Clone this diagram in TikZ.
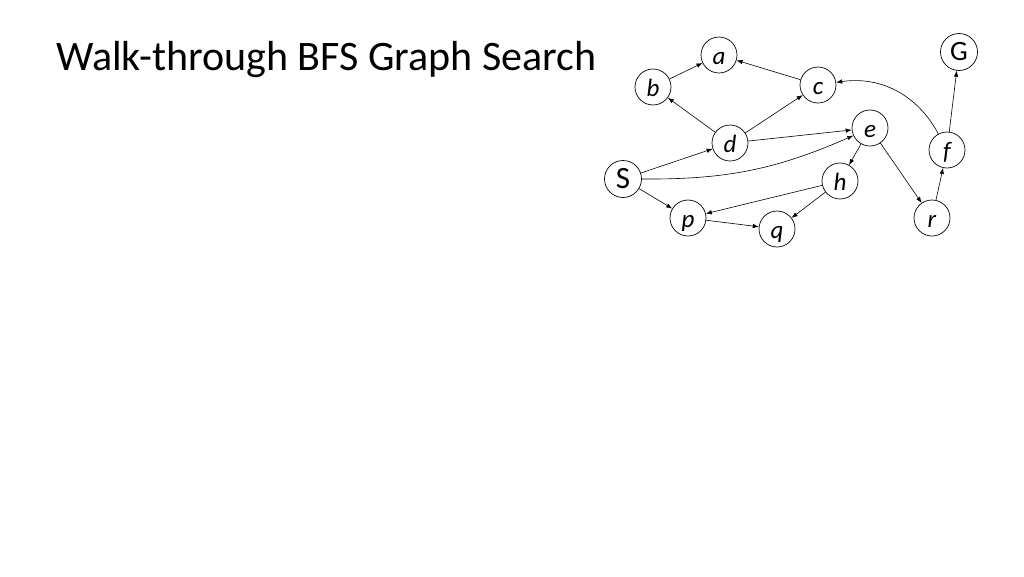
\documentclass[tikz,border=0pt]{standalone}
\usepackage{fontspec}
\setmainfont{Carlito}
\usetikzlibrary{arrows.meta}
\newcommand{\vlbl}[1]{\raisebox{-4pt}{#1}}
\begin{document}
\begin{tikzpicture}[x=1pt,y=-1pt,
  vtx/.style={circle,draw,line width=0.7pt,minimum size=36pt,inner sep=0pt,text height=14.5pt,text depth=3pt,font=\fontsize{25}{25}\selectfont\itshape},
  big/.style={circle,draw,line width=0.7pt,minimum size=37pt,inner sep=0pt},
  arr/.style={-{Latex[length=6pt,width=4.5pt]},line width=0.6pt}]
\useasboundingbox (0,0) rectangle (1024,576);
\node[anchor=base west,inner sep=0pt,font=\fontsize{42}{42}\selectfont] (title) at (56,70) {Walk-through BFS Graph Search};
\node[vtx] (a) at (719,55) {\vlbl{a}};
\node[vtx] (b) at (653,87) {\vlbl{b}};
\node[vtx] (c) at (818,85) {\vlbl{c}};
\node[vtx] (d) at (730,143) {\vlbl{d}};
\node[vtx] (e) at (870,128) {\vlbl{e}};
\node[vtx] (f) at (947,150) {\vlbl{f}};
\node[big,font=\fontsize{28}{28}\selectfont] (G) at (959,52) {\raisebox{-1.5pt}{G}};
\node[big,font=\fontsize{31}{31}\selectfont] (S) at (623,179) {\raisebox{-2pt}{S}};
\node[vtx] (h) at (840,181) {\vlbl{h}};
\node[vtx] (p) at (688,218) {\vlbl{p}};
\node[vtx] (q) at (777,229) {\vlbl{q}};
\node[vtx] (r) at (932,218) {\vlbl{r}};
\draw[arr] (b) -- (a);
\draw[arr] (c) -- (a);
\draw[arr] (d) -- (b);
\draw[arr] (d) -- (c);
\draw[arr] (d) -- (e);
\draw[arr] (S) -- (d);
\draw[arr] (S.east) to[bend right=12] (e);
\draw[arr] (S) -- (p);
\draw[arr] (e) -- (h);
\draw[arr] (e) -- (r);
\draw[arr] (h) -- (p);
\draw[arr] (h) -- (q);
\draw[arr] (p) -- (q);
\draw[arr] (r) -- (f);
\draw[arr] (f) -- (G);
\draw[arr] (f) to[bend right=35] (c);
\end{tikzpicture}
\end{document}
